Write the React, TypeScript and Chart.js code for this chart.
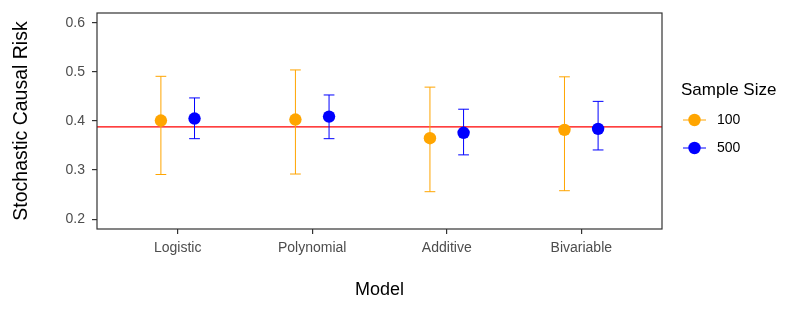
import React, { useEffect, useRef } from "react";
import { Chart, registerables } from "chart.js";

Chart.register(...registerables);

const models = ["Logistic", "Polynomial", "Additive", "Bivariable"];
const sampleSizes = ["100", "500"];
const seriesColors = ["#FFA500", "#0000FF"];
const est100 = [0.401, 0.403, 0.365, 0.382];
const lo100 = [0.291, 0.292, 0.256, 0.258];
const hi100 = [0.491, 0.504, 0.469, 0.49];
const est500 = [0.405, 0.409, 0.376, 0.384];
const lo500 = [0.364, 0.364, 0.331, 0.341];
const hi500 = [0.447, 0.453, 0.424, 0.44];
const referenceRisk = 0.388;
const yTicks = [0.2, 0.3, 0.4, 0.5, 0.6];

const FONT = "'Liberation Sans', Arial, Helvetica, sans-serif";
const DODGE = 0.125;
const CAP = 0.04;

const ests = [est100, est500];
const los = [lo100, lo500];
const his = [hi100, hi500];

const errorBarPlugin = {
  id: "errorBars",
  beforeDatasetsDraw(chart: any) {
    const { ctx, chartArea, scales } = chart;
    const xs = scales.x;
    const ys = scales.y;
    ctx.save();
    const yr = ys.getPixelForValue(referenceRisk);
    ctx.strokeStyle = "#FF0000";
    ctx.lineWidth = 1.1;
    ctx.beginPath();
    ctx.moveTo(chartArea.left, yr);
    ctx.lineTo(chartArea.right, yr);
    ctx.stroke();
    sampleSizes.forEach((_, s) => {
      ctx.strokeStyle = seriesColors[s];
      ctx.lineWidth = 1;
      models.forEach((_, i) => {
        const xc = i + 1 + (s === 0 ? -DODGE : DODGE);
        const px = xs.getPixelForValue(xc);
        const pl = xs.getPixelForValue(xc - CAP);
        const pr = xs.getPixelForValue(xc + CAP);
        const yl = ys.getPixelForValue(los[s][i]);
        const yh = ys.getPixelForValue(his[s][i]);
        ctx.beginPath();
        ctx.moveTo(px, yl);
        ctx.lineTo(px, yh);
        ctx.moveTo(pl, yl);
        ctx.lineTo(pr, yl);
        ctx.moveTo(pl, yh);
        ctx.lineTo(pr, yh);
        ctx.stroke();
      });
    });
    ctx.restore();
  },
  afterDraw(chart: any) {
    const { ctx, chartArea } = chart;
    ctx.save();
    ctx.strokeStyle = "#333333";
    ctx.lineWidth = 1.2;
    ctx.strokeRect(chartArea.left, chartArea.top, chartArea.right - chartArea.left, chartArea.bottom - chartArea.top);
    const lx = chartArea.right + 19;
    ctx.fillStyle = "#000000";
    ctx.font = `17px ${FONT}`;
    ctx.textBaseline = "middle";
    ctx.textAlign = "left";
    ctx.fillText("Sample Size", lx, 90);
    sampleSizes.forEach((label, s) => {
      const y = 120 + s * 28;
      ctx.strokeStyle = seriesColors[s];
      ctx.lineWidth = 1;
      ctx.beginPath();
      ctx.moveTo(lx + 2, y);
      ctx.lineTo(lx + 25, y);
      ctx.stroke();
      ctx.fillStyle = seriesColors[s];
      ctx.beginPath();
      ctx.arc(lx + 13.5, y, 6.2, 0, Math.PI * 2);
      ctx.fill();
      ctx.fillStyle = "#000000";
      ctx.font = `14px ${FONT}`;
      ctx.fillText(label, lx + 36, y);
    });
    ctx.restore();
  },
};

export default function App() {
  const ref = useRef<HTMLCanvasElement>(null);
  useEffect(() => {
    if (!ref.current) return;
    const datasets = sampleSizes.map((label, s) => ({
      label,
      data: models.map((_, i) => ({ x: i + 1 + (s === 0 ? -DODGE : DODGE), y: ests[s][i] })),
      backgroundColor: seriesColors[s],
      borderColor: seriesColors[s],
      pointRadius: 6.2,
      pointBorderWidth: 0,
      showLine: false,
    }));
    const chart = new Chart(ref.current, {
      type: "scatter",
      data: { datasets },
      plugins: [errorBarPlugin],
      options: {
        animation: false,
        responsive: false,
        devicePixelRatio: 1,
        layout: { padding: { left: 0, right: 127, top: 13, bottom: 0 } },
        plugins: { legend: { display: false }, tooltip: { enabled: false } },
        scales: {
          x: {
            type: "linear",
            min: 0.4,
            max: 4.6,
            afterBuildTicks: (s: any) => {
              s.ticks = models.map((_, i) => ({ value: i + 1 }));
            },
            afterFit: (s: any) => {
              s.height = 85;
              s.paddingLeft = 0;
              s.paddingRight = 0;
            },
            ticks: {
              autoSkip: false,
              maxRotation: 0,
              padding: 6,
              color: "#4D4D4D",
              font: { family: FONT, size: 14 },
              callback: (v: any) => models[Math.round(v) - 1] ?? "",
            },
            grid: { drawOnChartArea: false, drawTicks: true, tickLength: 5, color: "#333333", lineWidth: 1.2 },
            border: { display: false },
            title: { display: true, text: "Model", color: "#000000", font: { family: FONT, size: 18 }, padding: { top: 0, bottom: 13 } },
          },
          y: {
            min: 0.18,
            max: 0.62,
            afterBuildTicks: (s: any) => {
              s.ticks = yTicks.map((v) => ({ value: v }));
            },
            afterFit: (s: any) => {
              s.width = 97;
              s.paddingTop = 0;
              s.paddingBottom = 0;
            },
            ticks: {
              padding: 7,
              color: "#4D4D4D",
              font: { family: FONT, size: 14 },
              callback: (v: any) => Number(v).toFixed(1),
            },
            grid: { drawOnChartArea: false, drawTicks: true, tickLength: 5, color: "#333333", lineWidth: 1.2 },
            border: { display: false },
            title: { display: true, text: "Stochastic Causal Risk", color: "#000000", font: { family: FONT, size: 19.5 }, padding: { top: 10, bottom: 0 } },
          },
        },
      },
    });
    return () => chart.destroy();
  }, []);
  return (
    <div style={{ position: "absolute", left: 0, top: 0, width: 789, height: 314, background: "#ffffff" }}>
      <canvas ref={ref} width={789} height={314} style={{ width: 789, height: 314 }} />
    </div>
  );
}
